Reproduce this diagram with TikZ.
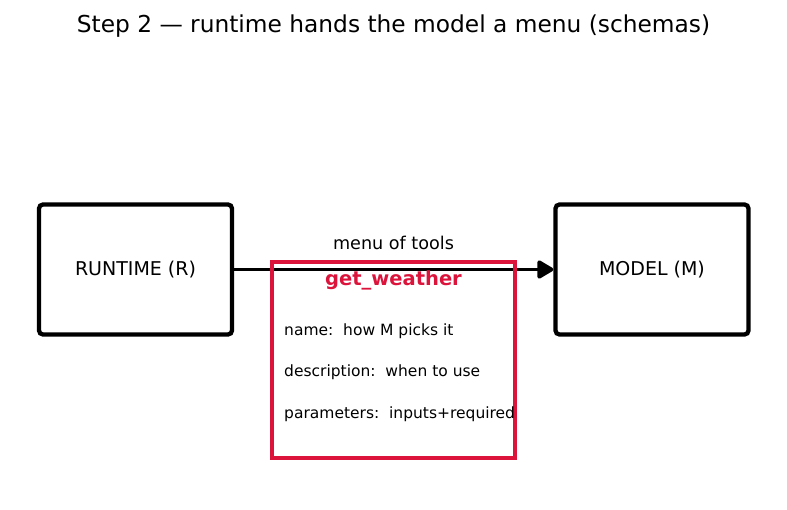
\documentclass[tikz,border=0pt]{standalone}
\usepackage{fontspec}
\setmainfont{DejaVu Sans}
\usetikzlibrary{arrows.meta}
\definecolor{crim}{HTML}{DC143C}
\begin{document}
\begin{tikzpicture}[x=1pt,y=-1pt,
  agent/.style={draw=black,line width=4.3pt,rounded corners=4pt,minimum width=193pt,minimum height=130pt,inner sep=0pt,font=\fontsize{19}{22}\selectfont},
  item/.style={anchor=west,inner sep=0pt,font=\fontsize{15.5}{18}\selectfont},
  flow/.style={line width=3.8pt,line cap=round,-{Triangle[length=18pt,width=20pt,round]}}]
\useasboundingbox (0,0) rectangle (787,510);
\node[font=\fontsize{23.3}{27}\selectfont] (title) at (393.5,26.5) {Step 2 — runtime hands the model a menu (schemas)};
\node[agent] (R) at (135.5,269.5) {RUNTIME (R)};
\node[agent] (M) at (652,269.5) {MODEL (M)};
\draw[flow] ([xshift=-2pt]R.east) -- (M.west);
\node[font=\fontsize{17.6}{21}\selectfont] (lab) at (393.5,242.5) {menu of tools};
\node[draw=crim,line width=3.8pt,minimum width=243pt,minimum height=196pt,inner sep=0pt] (card) at (393.5,360) {};
\node[font=\bfseries\fontsize{19.5}{23}\selectfont,text=crim] (gw) at (393.5,280.5) {get\_weather};
\node[item] (n1) at (284,331) {name:\ \ how M picks it};
\node[item] (n2) at (284,372) {description:\ \ when to use};
\node[item] (n3) at (284,414) {parameters:\ \ inputs+required};
\end{tikzpicture}
\end{document}
